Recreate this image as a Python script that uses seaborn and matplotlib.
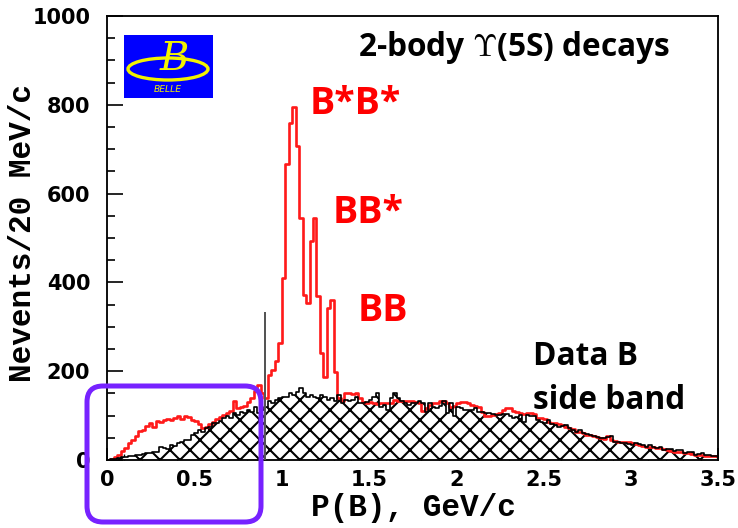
import numpy as np
import pandas as pd
import seaborn as sns
import matplotlib
matplotlib.use("Agg")
import matplotlib.pyplot as plt
from matplotlib.patches import FancyBboxPatch, Ellipse, Rectangle
from matplotlib.ticker import MultipleLocator

# ---------------- data (events per 20 MeV/c bin, P(B) from 0 to 3.5 GeV/c) -------------
bin_width = 0.02

signal_counts = [
    0, 2, 6, 12, 20, 26, 38, 46, 53, 65,
    68, 76, 84, 74, 87, 86, 91, 93, 90, 94,
    99, 92, 98, 96, 90, 88, 80, 73, 75, 80,
    86, 92, 97, 102, 106, 110, 133, 116, 120, 122,
    130, 140, 155, 170, 150, 140, 192, 203, 222, 264,
    411, 666, 760, 794, 707, 546, 372, 354, 493, 546,
    369, 241, 188, 342, 361, 199, 140, 132, 150, 151,
    148, 151, 139, 130, 128, 130, 128, 126, 128, 128,
    128, 128, 135, 132, 132, 132, 132, 132, 130, 128,
    110, 118, 125, 128, 128, 132, 132, 128, 120, 122,
    128, 130, 130, 128, 125, 122, 120, 109, 100, 100,
    102, 104, 106, 113, 116, 117, 110, 108, 106, 104,
    106, 106, 104, 95, 94, 92, 85, 84, 84, 82,
    78, 75, 72, 70, 64, 62, 60, 57, 56, 54,
    52, 49, 48, 53, 44, 42, 41, 40, 41, 40,
    38, 36, 34, 32, 30, 30, 29, 28, 26, 24,
    23, 20, 19, 19, 17, 15, 15, 14, 12, 11,
    11, 10, 9, 9, 10,
]

sideband_counts = [
    1, 2, 3, 4, 6, 7, 8, 9, 11, 12,
    14, 15, 16, 19, 17, 30, 27, 25, 34, 32,
    38, 41, 46, 44, 56, 60, 68, 64, 72, 75,
    83, 83, 87, 94, 98, 94, 105, 102, 109, 105,
    113, 109, 120, 105, 113, 120, 132, 128, 135, 139,
    143, 143, 150, 147, 154, 162, 150, 143, 147, 143,
    139, 147, 143, 135, 139, 132, 147, 128, 135, 132,
    135, 143, 128, 128, 130, 135, 143, 151, 120, 124,
    113, 140, 151, 139, 132, 128, 124, 128, 128, 132,
    128, 109, 128, 120, 118, 122, 132, 105, 128, 100,
    120, 116, 113, 113, 113, 117, 109, 108, 105, 106,
    104, 102, 101, 104, 104, 98, 94, 96, 102, 86,
    102, 100, 98, 90, 86, 83, 90, 82, 79, 75,
    77, 79, 72, 68, 64, 68, 60, 58, 56, 53,
    51, 49, 49, 51, 53, 41, 40, 38, 38, 36,
    34, 38, 35, 33, 30, 34, 30, 26, 29, 23,
    24, 24, 20, 22, 23, 15, 17, 19, 11, 14,
    15, 11, 11, 10, 9,
]

spike_p = [0.905]
spike_counts = [334]

x_ticks = [0, 0.5, 1, 1.5, 2, 2.5, 3, 3.5]
x_tick_labels = ["0", "0.5", "1", "1.5", "2", "2.5", "3", "3.5"]
y_ticks = [0, 200, 400, 600, 800, 1000]
y_tick_labels = ["0", "200", "400", "600", "800", "1000"]

x_label = "P(B), GeV/c"
y_label = "Nevents/20 MeV/c"
title_text = r"2-body $\mathbf{\Upsilon}$(5S) decays"
peak_labels = ["B*B*", "BB*", "BB"]
peak_label_pos = [(1.42, 802), (1.495, 556), (1.58, 336)]
sideband_text = ["Data B", "side band"]

# ---------------- frame ----------------
edges = [round(i * bin_width, 4) for i in range(len(signal_counts) + 1)]
centers = [(a + b) / 2 for a, b in zip(edges[:-1], edges[1:])]
df = pd.DataFrame({"p": centers, "signal": signal_counts, "sideband": sideband_counts})

sns.set_theme(style="ticks")
plt.rcParams["font.family"] = ["DejaVu Sans"]
plt.rcParams["hatch.linewidth"] = 1.25
plt.rcParams["mathtext.fontset"] = "cm"

W, H, DPI = 738, 528, 120
fig = plt.figure(figsize=(W / DPI, H / DPI), dpi=DPI)
fig.patch.set_facecolor("white")
ax = fig.add_axes([107 / W, 68 / H, 611 / W, 444 / H])
ax.set_facecolor("white")

# hatched side-band histogram (fill)
sns.histplot(data=df, x="p", weights="sideband", bins=edges, element="step",
             fill=True, facecolor="white", edgecolor="black", hatch="xx",
             linewidth=0.0, alpha=1, ax=ax, zorder=1)
# red signal histogram
sns.histplot(data=df, x="p", weights="signal", bins=edges, element="step",
             fill=False, color="#ff1a1a", linewidth=1.6, ax=ax, zorder=2)
# black outline of side band
sns.histplot(data=df, x="p", weights="sideband", bins=edges, element="step",
             fill=False, color="black", linewidth=1.0, ax=ax, zorder=3)
ax.vlines(spike_p, 0, spike_counts, color="#555555", linewidth=1.2, zorder=3)

ax.set_xlim(0, 3.5)
ax.set_ylim(0, 1000)
ax.xaxis.set_minor_locator(MultipleLocator(0.1))
ax.yaxis.set_minor_locator(MultipleLocator(50))
ax.tick_params(which="both", direction="in", top=False, right=False, color="black")
ax.tick_params(axis="y", which="major", length=9.6, width=1.0, pad=10)
ax.tick_params(axis="y", which="minor", length=4.8, width=1.0)
ax.tick_params(axis="x", which="major", length=7, width=1.0, pad=6)
ax.tick_params(axis="x", which="minor", length=3.5, width=0.8)
ax.set_xticks(x_ticks)
ax.set_yticks(y_ticks)
tick_font = dict(fontfamily="DejaVu Sans", fontweight="bold",
                 fontsize=12.5, color="black")
ax.set_xticklabels(x_tick_labels, **tick_font)
ax.set_yticklabels(y_tick_labels, **tick_font)
for s in ax.spines.values():
    s.set_visible(True)
    s.set_color("black")
    s.set_linewidth(1.1)

ax.set_xlabel(x_label, fontfamily="Liberation Mono", fontweight="bold",
              fontsize=18.7, color="black", va="center")
ax.set_ylabel(y_label, fontfamily="Liberation Mono", fontweight="bold",
              fontsize=18.7, color="black", va="center")
ax.xaxis.set_label_coords(0.501, -0.108)
ax.yaxis.set_label_coords(-0.137, 0.511)

ann_font = ["Open Sans", "DejaVu Sans"]
ax.text(1.437, 928, title_text, fontfamily=ann_font, fontweight="bold",
        fontsize=19, color="black", ha="left", va="center")
for txt, (px, py) in zip(peak_labels, peak_label_pos):
    ax.text(px, py, txt, fontfamily=ann_font, fontweight="bold", fontsize=22.5,
            color="#ff0000", ha="center", va="center")
ax.text(2.44, 234, sideband_text[0], fontfamily=ann_font, fontweight="bold",
        fontsize=19, color="black", ha="left", va="center")
ax.text(2.44, 135, sideband_text[1], fontfamily=ann_font, fontweight="bold",
        fontsize=19, color="black", ha="left", va="center")

# ---------------- overlay: logo and highlight box (pixel coordinates) -------------
ov = fig.add_axes([0, 0, 1, 1])
ov.set_xlim(0, W)
ov.set_ylim(H, 0)
ov.axis("off")
ov.patch.set_alpha(0)

ov.add_patch(Rectangle((124, 35), 89, 63, facecolor="#0000ff", edgecolor="none"))
ov.add_patch(Ellipse((168, 69), 80, 22, facecolor="none", edgecolor="#f2f200", linewidth=2.0))
ov.text(174, 60, "B", fontfamily="DejaVu Serif", style="italic", fontsize=24,
        color="#f2f200", ha="center", va="center")
ov.text(168, 89, "BELLE", fontfamily="DejaVu Sans", style="italic", fontsize=5.5,
        color="#f2f200", ha="center", va="center")

ov.add_patch(FancyBboxPatch((87, 386), 174, 136,
                            boxstyle="round,pad=0,rounding_size=16",
                            facecolor="none", edgecolor="#7722ff", linewidth=3.0))

fig.savefig("out.png", dpi=DPI, facecolor="white")
